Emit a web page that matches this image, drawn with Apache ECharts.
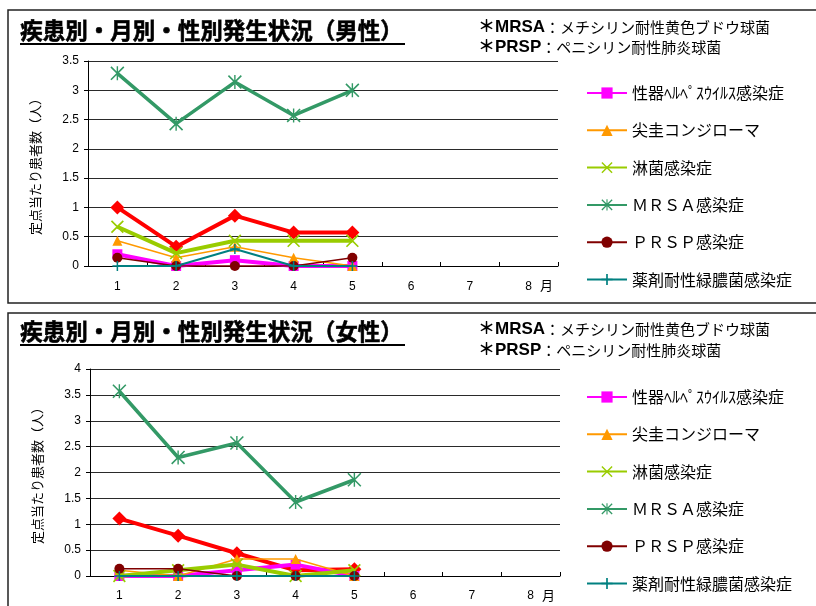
<!DOCTYPE html>
<html><head><meta charset="utf-8">
<script src="https://cdn.jsdelivr.net/npm/echarts@6/dist/echarts.min.js"></script>
<style>html,body{margin:0;padding:0;background:#fff}#c{width:816px;height:606px}</style>
</head><body><div id="c"></div>
<script>
// ---- data ----
const months = ['1','2','3','4','5','6','7','8'];
const seriesNames = ['性器クラミジア感染症','性器ﾍﾙﾍﾟｽｳｲﾙｽ感染症','尖圭コンジローマ','淋菌感染症','ＭＲＳＡ感染症','ＰＲＳＰ感染症','薬剤耐性緑膿菌感染症'];
const legendNames = ['性器ﾍﾙﾍﾟｽｳｲﾙｽ感染症','尖圭コンジローマ','淋菌感染症','ＭＲＳＡ感染症','ＰＲＳＰ感染症','薬剤耐性緑膿菌感染症'];
const titleMale = '疾患別・月別・性別発生状況（男性）';
const titleFemale = '疾患別・月別・性別発生状況（女性）';
const yAxisTitle = '定点当たり患者数（人）';
const monthUnit = '月';

// male (per sentinel)
const maleChlamydia = [1.0, 0.33, 0.86, 0.57, 0.57];
const maleHerpes    = [0.2, 0, 0.1, 0, 0];
const maleCondyloma = [0.43, 0.14, 0.33, 0.14, 0];
const maleGonorrhea = [0.67, 0.22, 0.43, 0.43, 0.43];
const maleMRSA      = [3.29, 2.43, 3.14, 2.57, 3.0];
const malePRSP      = [0.14, 0, 0, 0, 0.14];
const malePA        = [0, 0, 0.29, 0, 0];

// female
const femChlamydia = [1.11, 0.78, 0.44, 0.11, 0.13];
const femHerpes    = [0, 0, 0.11, 0.22, 0];
const femCondyloma = [0.11, 0, 0.33, 0.33, 0];
const femGonorrhea = [0, 0.11, 0.22, 0, 0.11];
const femMRSA      = [3.57, 2.29, 2.57, 1.43, 1.86];
const femPRSP      = [0.14, 0.14, 0, 0, 0];
const femPA        = [0, 0, 0, 0, 0];

const maleMax = 3.5, femMax = 4, yStep = 0.5;

// ---- styles ----
const pathX = 'path://M0,1.8L1.8,0L20,18.2L18.2,20Z M18.2,0L20,1.8L1.8,20L0,18.2Z';
const pathStar = 'path://M9,0H11V20H9Z M0,1.6L1.6,0L20,18.4L18.4,20Z M18.4,0L20,1.6L1.6,20L0,18.4Z';
const pathPlus = 'path://M8.5,0H11.5V20H8.5Z M0,8.5H20V11.5H0Z';
const styles = [
  {color:'#FF0000', width:4, symbol:'diamond', size:14},
  {color:'#FF00FF', width:4, symbol:'rect', size:10},
  {color:'#FF9900', width:1.5, symbol:'triangle', size:10},
  {color:'#99CC00', width:4, symbol:pathX, size:13},
  {color:'#339966', width:3.5, symbol:pathStar, size:14},
  {color:'#800000', width:1.5, symbol:'circle', size:10},
  {color:'#008080', width:2, symbol:pathPlus, size:10}
];
const maleData = [maleChlamydia, maleHerpes, maleCondyloma, maleGonorrhea, maleMRSA, malePRSP, malePA];
const femData = [femChlamydia, femHerpes, femCondyloma, femGonorrhea, femMRSA, femPRSP, femPA];

const series = [];
[maleData, femData].forEach((set, gi) => {
  set.forEach((vals, i) => {
    const s = styles[i];
    series.push({
      type:'line', name: seriesNames[i], xAxisIndex: gi, yAxisIndex: gi,
      data: vals, symbol: s.symbol, symbolSize: s.size,
      showAllSymbol: true,
      lineStyle:{color:s.color, width:s.width},
      itemStyle:{color:s.color, borderWidth:0},
      emphasis:{disabled:true}, z: 2 + i
    });
  });
});

function xAxis(gi){
  return {
    type:'category', gridIndex: gi, data: months, boundaryGap: true,
    axisLine:{show:true, lineStyle:{color:'#000', width:1}},
    axisTick:{show:true, inside:true, length:4, lineStyle:{color:'#000'}},
    axisLabel:{color:'#000', fontSize:12, fontFamily:'Liberation Sans, Arial', margin: gi===0 ? 15 : 14},
    splitLine:{show:false},
    name: monthUnit, nameLocation:'end', nameGap:-5, nameMoveOverlap:false,
    nameTextStyle:{color:'#000', fontSize:13, fontFamily:'Noto Sans CJK JP', align:'right', verticalAlign:'top', padding:[13,0,0,0]}
  };
}
function yAxis(gi, max){
  return {
    type:'value', gridIndex: gi, min:0, max:max, interval:yStep,
    axisLine:{show:true, lineStyle:{color:'#000', width:1}},
    axisTick:{show:true, length:4, lineStyle:{color:'#000'}},
    axisLabel:{color:'#000', fontSize:12, fontFamily:'Liberation Sans, Arial', margin:9},
    splitLine:{show:true, lineStyle:{color:'#2a2a2a', width:1.2}},
    name: yAxisTitle, nameLocation:'middle', nameRotate:90, nameGap:46,
    nameTextStyle:{color:'#000', fontSize:13, fontFamily:'Noto Sans CJK JP'}
  };
}
function legend(top){
  return {
    data: legendNames, orient:'vertical', left:581, top: top, height: 280,
    itemWidth:40, itemHeight:14, itemGap:21.3, selectedMode:false,
    textStyle:{color:'#000', fontSize:16, fontFamily:'Noto Sans CJK JP', lineHeight:14}
  };
}
function notes(y1, y2){
  const rich = {
    b:{fontSize:17, fontWeight:'bold', fontFamily:'Liberation Sans, Noto Sans CJK JP', fill:'#000'},
    n:{fontSize:15, fontFamily:'Noto Sans CJK JP', fill:'#000'}
  };
  return [
    {type:'text', left:478, top:y1-9, style:{text:'{b|＊MRSA}{n|：メチシリン耐性黄色ブドウ球菌}', rich:rich}},
    {type:'text', left:478, top:y2-9, style:{text:'{b|＊PRSP}{n|：ペニシリン耐性肺炎球菌}', rich:rich}}
  ];
}
function titleText(txt, top, lineY){
  return [
    {type:'text', left:20, top:top, style:{text:txt, fontSize:22.5, fontWeight:'bold', fontFamily:'Noto Sans CJK JP', fill:'#000', stroke:'#000', lineWidth:0.6}},
    {type:'line', shape:{x1:20, y1:lineY, x2:405, y2:lineY}, style:{stroke:'#000', lineWidth:1.8}}
  ];
}

const option = {
  animation:false,
  backgroundColor:'#fff',
  grid:[
    {left:88, right:258, top:61, bottom:340, containLabel:false},
    {left:90, right:256, top:369, bottom:30, containLabel:false}
  ],
  xAxis:[xAxis(0), xAxis(1)],
  yAxis:[yAxis(0, maleMax), yAxis(1, femMax)],
  legend:[legend(80), legend(384)],
  series: series,
  graphic:[
    {type:'rect', shape:{x:8, y:10, width:840, height:293}, style:{fill:'none', stroke:'#222', lineWidth:1.5}, z:-1},
    {type:'rect', shape:{x:8, y:313, width:840, height:330}, style:{fill:'none', stroke:'#222', lineWidth:1.5}, z:-1},
    ...titleText(titleMale, 19, 44),
    ...titleText(titleFemale, 320, 345),
    ...notes(28, 48),
    ...notes(330, 351)
  ]
};
const chart = echarts.init(document.getElementById('c'), null, {renderer:'canvas'});
chart.setOption(option);
</script></body></html>
